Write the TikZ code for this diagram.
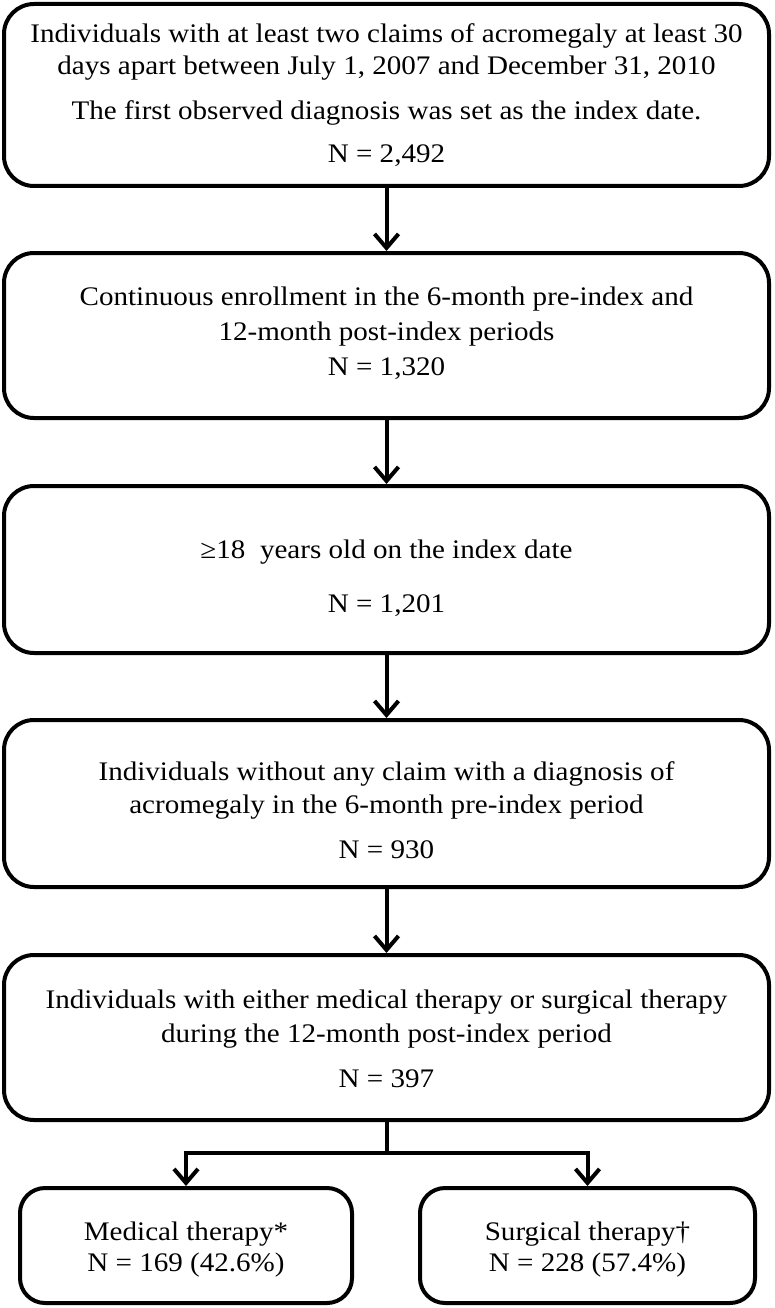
\documentclass[tikz,border=0pt]{standalone}
\usepackage{fontspec}
\setmainfont{Liberation Serif}[FakeStretch=1.085]
\usetikzlibrary{arrows.meta}
\begin{document}
\begin{tikzpicture}[x=1pt,y=-1pt,
  box/.style={draw, line width=4pt, rounded corners=30pt, inner sep=0pt},
  smallbox/.style={box, rounded corners=25pt},
  txt/.style={anchor=base, inner sep=0pt, font=\fontsize{26.8}{30}\selectfont},
  link/.style={line width=4pt},
  arr/.style={line width=4pt, -{Straight Barb[length=14pt,width=24pt,line width=4pt]}}]
\useasboundingbox (0,0) rectangle (774,1308);
% boxes
\node[box, minimum width=765pt, minimum height=182pt] (b1) at (386.5,95) {};
\node[box, minimum width=765pt, minimum height=165pt] (b2) at (386.5,335.5) {};
\node[box, minimum width=765pt, minimum height=167pt] (b3) at (386.5,569.5) {};
\node[box, minimum width=765pt, minimum height=167pt] (b4) at (386.5,803.5) {};
\node[box, minimum width=765pt, minimum height=165pt] (b5) at (386.5,1037.5) {};
\node[smallbox, minimum width=332pt, minimum height=115pt] (b6) at (186,1245.5) {};
\node[smallbox, minimum width=335pt, minimum height=115pt] (b7) at (587.5,1245.5) {};
% texts
\node[txt] (t1a) at (386.5,43) {Individuals with at least two claims of acromegaly at least 30};
\node[txt] (t1b) at (386.5,75) {days apart between July 1, 2007 and December 31, 2010};
\node[txt] (t1c) at (386.5,119.5) {The first observed diagnosis was set as the index date.};
\node[txt] (t1d) at (386.5,163) {N = 2,492};
\node[txt] (t2a) at (386.5,305) {Continuous enrollment in the 6-month pre-index and};
\node[txt] (t2b) at (386.5,340) {12-month post-index periods};
\node[txt] (t2c) at (386.5,375) {N = 1,320};
\node[txt] (t3a) at (386.5,558) {≥18\ \ years old on the index date};
\node[txt] (t3b) at (386.5,612) {N = 1,201};
\node[txt] (t4a) at (386.5,780) {Individuals without any claim with a diagnosis of};
\node[txt] (t4b) at (386.5,813) {acromegaly in the 6-month pre-index period};
\node[txt] (t4c) at (386.5,858) {N = 930};
\node[txt] (t5a) at (386.5,1008) {Individuals with either medical therapy or surgical therapy};
\node[txt] (t5b) at (386.5,1042) {during the 12-month post-index period};
\node[txt] (t5c) at (386.5,1087) {N = 397};
\node[txt] (t6a) at (186,1240) {Medical therapy*};
\node[txt] (t6b) at (186,1271) {N = 169 (42.6\%)};
\node[txt] (t7a) at (587.5,1240) {Surgical therapy†};
\node[txt] (t7b) at (587.5,1271) {N = 228 (57.4\%)};
% connectors
\draw[arr] (b1.south) -- (b2.north);
\draw[arr] (b2.south) -- (b3.north);
\draw[arr] (b3.south) -- (b4.north);
\draw[arr] (b4.south) -- (b5.north);
\coordinate (sp) at (386.5,1153);
\draw[link] (b5.south) -- (sp);
\draw[arr] (sp) -| (b6.north);
\draw[arr] (sp) -| (b7.north);
\end{tikzpicture}
\end{document}
